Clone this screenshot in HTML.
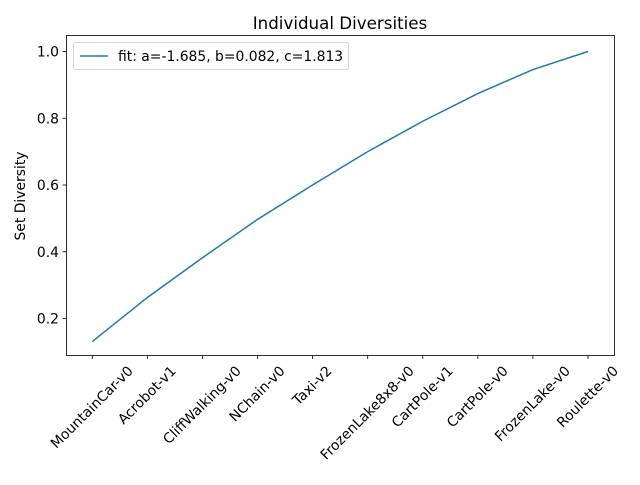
<!DOCTYPE html>
<html><head><meta charset="utf-8"><style>
body{margin:0;background:#fff;font-family:"Liberation Sans","DejaVu Sans",sans-serif}
svg text{font-family:"DejaVu Sans","Liberation Sans",sans-serif}
</style></head><body>
<svg id="chart" width="640" height="480" xmlns="http://www.w3.org/2000/svg">
<rect width="640" height="480" fill="#fff"/>
<text x="340" y="29" font-size="16.7" text-anchor="middle" fill="#000">Individual Diversities</text>
<text transform="translate(25,196) rotate(-90)" font-size="13.9" text-anchor="middle">Set Diversity</text>
<g id="ticks"></g>
<path id="line" fill="none" stroke="#1f77b4" stroke-width="1.5"/>
<rect x="66.5" y="35.5" width="548" height="320" fill="none" stroke="#000" stroke-width="0.8"/>
<g>
<rect x="73.5" y="42.5" width="275" height="27" rx="2" fill="#fff" stroke="#ccc" stroke-width="0.8"/>
<line x1="80" y1="56" x2="108" y2="56" stroke="#1f77b4" stroke-width="1.5"/>
<text x="118" y="61" font-size="13.9">fit: a=-1.685, b=0.082, c=1.813</text>
</g>
</svg>
<script>
const categories=["MountainCar-v0","Acrobot-v1","CliffWalking-v0","NChain-v0","Taxi-v2","FrozenLake8x8-v0","CartPole-v1","CartPole-v0","FrozenLake-v0","Roulette-v0"];
const values=[0.131,0.263,0.382,0.497,0.600,0.700,0.791,0.874,0.946,1.0];
const yTicks=[0.2,0.4,0.6,0.8,1.0];
const NS="http://www.w3.org/2000/svg";
function xs(i){return 92.3+i*(588-92.3)/(categories.length-1);}
function ys(v){return 318.5-(v-0.2)*(318.5-51.5)/0.8;}
const g=document.getElementById('ticks');
categories.forEach((c,i)=>{
 const x=xs(i);
 const l=document.createElementNS(NS,'line');
 
 
 l.setAttribute('x1',x);l.setAttribute('x2',x);l.setAttribute('y1',355.5);l.setAttribute('y2',359);l.setAttribute('stroke','#000');l.setAttribute('stroke-width','0.8');g.appendChild(l);
 const t=document.createElementNS(NS,'text');
 
 
 t.setAttribute('font-size','13.9');t.setAttribute('text-anchor','middle');
 t.setAttribute('dominant-baseline','central');
 t.textContent=c;g.appendChild(t);
 const len=t.getComputedTextLength();
 const half=(len+14)*0.7071/2;
 t.setAttribute('transform',`translate(${x},${364+half}) rotate(-45)`);
});
yTicks.forEach(v=>{
 const y=ys(v);
 const l=document.createElementNS(NS,'line');
 
 
 l.setAttribute('x1',62.5);l.setAttribute('x2',66.5);l.setAttribute('y1',y);l.setAttribute('y2',y);l.setAttribute('stroke','#000');l.setAttribute('stroke-width','0.8');g.appendChild(l);
 const t=document.createElementNS(NS,'text');
 
 
 t.setAttribute('font-size','13.9');t.setAttribute('text-anchor','end');
 t.setAttribute('x',59);t.setAttribute('y',y+5);
 t.textContent=v.toFixed(1);g.appendChild(t);
});
document.getElementById('line').setAttribute('d',values.map((v,i)=>(i?'L':'M')+xs(i)+','+ys(v)).join(' '));
</script>
</body></html>
